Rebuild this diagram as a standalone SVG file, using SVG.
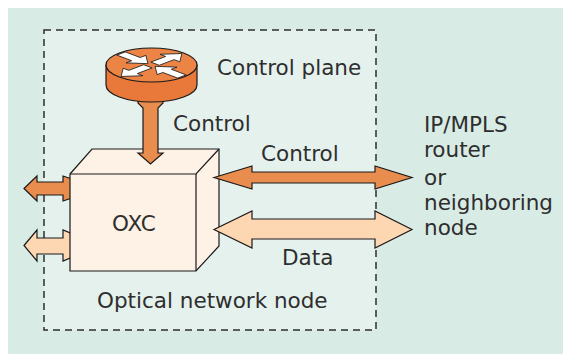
<svg xmlns="http://www.w3.org/2000/svg" width="563" height="355" viewBox="0 0 563 355">
<style>
  .t{font-family:"DejaVu Sans","Liberation Sans",sans-serif;font-size:21.5px;fill:#2e2e2e}
  .ln{stroke:#1a1a1a;stroke-width:1.2;stroke-linejoin:miter}
  .dark{fill:#e98d4f}
  .light{fill:#fdd6b2}
  .cube{fill:#fef1e6}
  .wa{fill:#ffffff;stroke:#1a1a1a;stroke-width:1}
</style>
<defs>
  <polygon id="aout" points="5,-6 26,-6 26,-14 43,0 26,14 26,6 5,6"/>
  <polygon id="ain" points="43,-6 22,-6 22,-14 5,0 22,14 22,6 43,6"/>
</defs>
<rect id="background" x="8" y="8" width="555" height="346" fill="#d9ebe5"/>
<g id="optical-network-node">
  <rect x="44" y="30" width="332" height="300" fill="#e5f1ed" stroke="#2e2e2e" stroke-width="1.5" stroke-dasharray="7,5"/>
  <text class="t" x="97" y="308">Optical network node</text>
</g>
<g id="connectors">
  <polygon id="arrow-left-control" class="dark ln" points="24,188.5 37,176 37,182 63,182 63,176 100,188.5 63,201 63,195 37,195 37,201"/>
  <polygon id="arrow-left-data" class="light ln" points="24,245.5 37,230 37,238 63,238 63,230 100,245.5 63,261 63,254 37,254 37,261"/>
</g>
<g id="oxc">
  <polygon class="cube ln" points="70,174 92,149 219,149 219,246 196,271 70,271"/>
  <polyline class="ln" fill="none" points="70,174 196,174 219,149"/>
  <line class="ln" x1="196" y1="174" x2="196" y2="271"/>
  <text class="t" x="112" y="231">OXC</text>
</g>
<g id="connectors-over">
  <polygon id="arrow-control-vertical" class="dark ln" points="150.5,80 163,101 163,103 158,108 158,153 163,153 150.5,164 138,153 143,153 143,108 138,103 138,101"/>
  <polygon id="arrow-right-control" class="dark ln" points="214,177.5 252,166 252,172 375,172 375,166 412,177.5 375,189 375,183 252,183 252,189"/>
  <polygon id="arrow-right-data" class="light ln" points="214,229.5 252,211 252,219 375,219 375,211 412,229.5 375,248 375,239 252,239 252,248"/>
</g>
<g id="router">
  <path class="ln" fill="#e8793a" d="M106,65 L106,85 A45.5,17 0 0 0 197,85 L197,65 Z"/>
  <ellipse class="ln" cx="151.5" cy="65" rx="45.5" ry="17" fill="#ec8446"/>
  <g transform="translate(151.5,65) scale(1,0.378)">
    <use href="#ain" class="wa" vector-effect="non-scaling-stroke" transform="rotate(225)"/>
    <use href="#ain" class="wa" vector-effect="non-scaling-stroke" transform="rotate(45)"/>
    <use href="#aout" class="wa" vector-effect="non-scaling-stroke" transform="rotate(315)"/>
    <use href="#aout" class="wa" vector-effect="non-scaling-stroke" transform="rotate(135)"/>
  </g>
  <text class="t" x="217" y="75">Control plane</text>
</g>
<g id="labels">
  <text class="t" x="173" y="131">Control</text>
  <text class="t" x="261" y="161">Control</text>
  <text class="t" x="282" y="265">Data</text>
  <g id="ip-mpls-router">
    <text class="t" x="424" y="132">IP/MPLS</text>
    <text class="t" x="424" y="157">router</text>
    <text class="t" x="424" y="185">or</text>
    <text class="t" x="424" y="210">neighboring</text>
    <text class="t" x="424" y="235">node</text>
  </g>
</g>
</svg>
